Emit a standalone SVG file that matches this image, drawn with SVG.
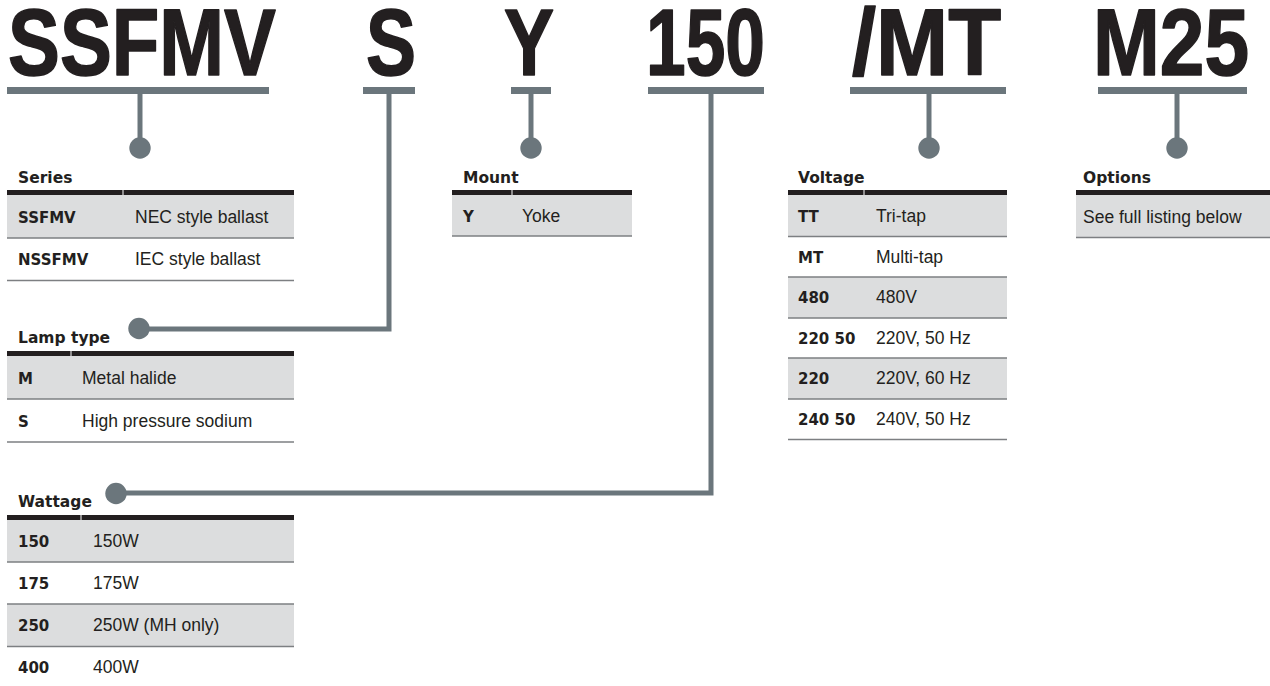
<svg xmlns="http://www.w3.org/2000/svg" width="1270" height="686" viewBox="0 0 1270 686">
<style>
.big{font-family:"Liberation Sans Narrow","Liberation Sans",Arial,sans-serif;font-weight:bold;font-size:94px;fill:#231f20;stroke:#231f20;stroke-width:1.6;stroke-linejoin:round}
.hdr{font-family:"DejaVu Sans",sans-serif;font-weight:bold;font-size:15.5px;fill:#231f20}
.code{font-family:"DejaVu Sans",sans-serif;font-weight:bold;font-size:15px;fill:#231f20}
.desc{font-family:"Liberation Sans",Arial,sans-serif;font-size:17.5px;fill:#231f20}
.bar{fill:#6b767c}
.hbar{fill:#231f20}
.shade{fill:#dcddde}
.rule{stroke:#7d7f82;stroke-width:1.3}
.wire{stroke:#6b767c;stroke-width:5;fill:none}
.dot{fill:#6b767c}
</style>
<rect width="1270" height="686" fill="#ffffff"/>

<g id="codes">
<text class="big" x="8" y="74.5" textLength="268" lengthAdjust="spacingAndGlyphs">SSFMV</text>
<text class="big" x="366" y="74.5" textLength="50" lengthAdjust="spacingAndGlyphs">S</text>
<text class="big" x="504" y="74.5" textLength="50" lengthAdjust="spacingAndGlyphs">Y</text>
<text class="big" x="646" y="74.5" textLength="119" lengthAdjust="spacingAndGlyphs">150</text>
<text class="big" x="852" y="74.5" textLength="149" lengthAdjust="spacingAndGlyphs">/MT</text>
<text class="big" x="1093" y="74.5" textLength="156" lengthAdjust="spacingAndGlyphs">M25</text>
</g>

<g id="connectors">
<rect class="bar" x="7" y="87" width="262" height="7"/>
<line class="wire" x1="140" y1="92" x2="140" y2="147"/>
<circle class="dot" cx="140" cy="148" r="10.7"/>

<rect class="bar" x="363" y="87" width="52" height="7"/>
<polyline class="wire" points="389,92 389,329 140,329"/>
<circle class="dot" cx="139" cy="328.5" r="10.7"/>

<rect class="bar" x="511" y="87" width="40" height="7"/>
<line class="wire" x1="531" y1="92" x2="531" y2="147"/>
<circle class="dot" cx="531" cy="148" r="10.7"/>

<rect class="bar" x="648" y="87" width="116" height="7"/>
<polyline class="wire" points="711,92 711,493 116,493"/>
<circle class="dot" cx="116" cy="493.5" r="10.7"/>

<rect class="bar" x="850" y="87" width="156" height="7"/>
<line class="wire" x1="929" y1="92" x2="929" y2="147"/>
<circle class="dot" cx="929" cy="148" r="10.7"/>

<rect class="bar" x="1098" y="87" width="149" height="7"/>
<line class="wire" x1="1177" y1="92" x2="1177" y2="147"/>
<circle class="dot" cx="1177" cy="148" r="10.7"/>
</g>

<g id="series">
<text class="hdr" x="18" y="183">Series</text>
<rect class="hbar" x="7" y="190" width="115.5" height="5"/>
<rect class="hbar" x="123.5" y="190" width="170.5" height="5"/>
<rect class="shade" x="7" y="195" width="287" height="43"/>
<line class="rule" x1="7" y1="238" x2="294" y2="238"/>
<line class="rule" x1="7" y1="280.5" x2="294" y2="280.5"/>
<text class="code" x="18" y="223">SSFMV</text>
<text class="desc" x="135" y="223">NEC style ballast</text>
<text class="code" x="18" y="265">NSSFMV</text>
<text class="desc" x="135" y="265">IEC style ballast</text>
</g>

<g id="lamp-type">
<text class="hdr" x="18" y="343">Lamp type</text>
<rect class="hbar" x="7" y="351" width="63.5" height="5"/>
<rect class="hbar" x="71.5" y="351" width="222.5" height="5"/>
<rect class="shade" x="7" y="356" width="287" height="43"/>
<line class="rule" x1="7" y1="399" x2="294" y2="399"/>
<line class="rule" x1="7" y1="442" x2="294" y2="442"/>
<text class="code" x="18" y="384">M</text>
<text class="desc" x="82" y="384">Metal halide</text>
<text class="code" x="18" y="427">S</text>
<text class="desc" x="82" y="427">High pressure sodium</text>
</g>

<g id="wattage">
<text class="hdr" x="18" y="507">Wattage</text>
<rect class="hbar" x="7" y="515" width="73.5" height="5"/>
<rect class="hbar" x="81.5" y="515" width="212.5" height="5"/>
<rect class="shade" x="7" y="520" width="287" height="42"/>
<rect class="shade" x="7" y="604" width="287" height="42"/>
<line class="rule" x1="7" y1="562" x2="294" y2="562"/>
<line class="rule" x1="7" y1="604" x2="294" y2="604"/>
<line class="rule" x1="7" y1="646.5" x2="294" y2="646.5"/>
<text class="code" x="18" y="547">150</text>
<text class="desc" x="93" y="547">150W</text>
<text class="code" x="18" y="589">175</text>
<text class="desc" x="93" y="589">175W</text>
<text class="code" x="18" y="631">250</text>
<text class="desc" x="93" y="631">250W (MH only)</text>
<text class="code" x="18" y="673">400</text>
<text class="desc" x="93" y="673">400W</text>
</g>

<g id="mount">
<text class="hdr" x="463" y="183">Mount</text>
<rect class="hbar" x="452" y="190" width="59.5" height="5"/>
<rect class="hbar" x="512.5" y="190" width="119.5" height="5"/>
<rect class="shade" x="452" y="195" width="180" height="41"/>
<line class="rule" x1="452" y1="236" x2="632" y2="236"/>
<text class="code" x="463" y="222">Y</text>
<text class="desc" x="522" y="222">Yoke</text>
</g>

<g id="voltage">
<text class="hdr" x="798" y="183">Voltage</text>
<rect class="hbar" x="788" y="190" width="75.5" height="5"/>
<rect class="hbar" x="864.5" y="190" width="142.5" height="5"/>
<rect class="shade" x="788" y="195" width="219" height="41.5"/>
<rect class="shade" x="788" y="277" width="219" height="41"/>
<rect class="shade" x="788" y="358" width="219" height="41"/>
<line class="rule" x1="788" y1="236.5" x2="1007" y2="236.5"/>
<line class="rule" x1="788" y1="277" x2="1007" y2="277"/>
<line class="rule" x1="788" y1="318" x2="1007" y2="318"/>
<line class="rule" x1="788" y1="358" x2="1007" y2="358"/>
<line class="rule" x1="788" y1="399" x2="1007" y2="399"/>
<line class="rule" x1="788" y1="439.5" x2="1007" y2="439.5"/>
<text class="code" x="798" y="222">TT</text>
<text class="desc" x="876" y="222">Tri-tap</text>
<text class="code" x="798" y="263">MT</text>
<text class="desc" x="876" y="263">Multi-tap</text>
<text class="code" x="798" y="303">480</text>
<text class="desc" x="876" y="303">480V</text>
<text class="code" x="798" y="344">220 50</text>
<text class="desc" x="876" y="344">220V, 50 Hz</text>
<text class="code" x="798" y="384">220</text>
<text class="desc" x="876" y="384">220V, 60 Hz</text>
<text class="code" x="798" y="425">240 50</text>
<text class="desc" x="876" y="425">240V, 50 Hz</text>
</g>

<g id="options">
<text class="hdr" x="1083" y="183">Options</text>
<rect class="hbar" x="1076" y="190" width="194" height="5"/>
<rect class="shade" x="1076" y="195" width="194" height="42"/>
<line class="rule" x1="1076" y1="237.5" x2="1270" y2="237.5"/>
<text class="desc" x="1083" y="223">See full listing below</text>
</g>
</svg>
